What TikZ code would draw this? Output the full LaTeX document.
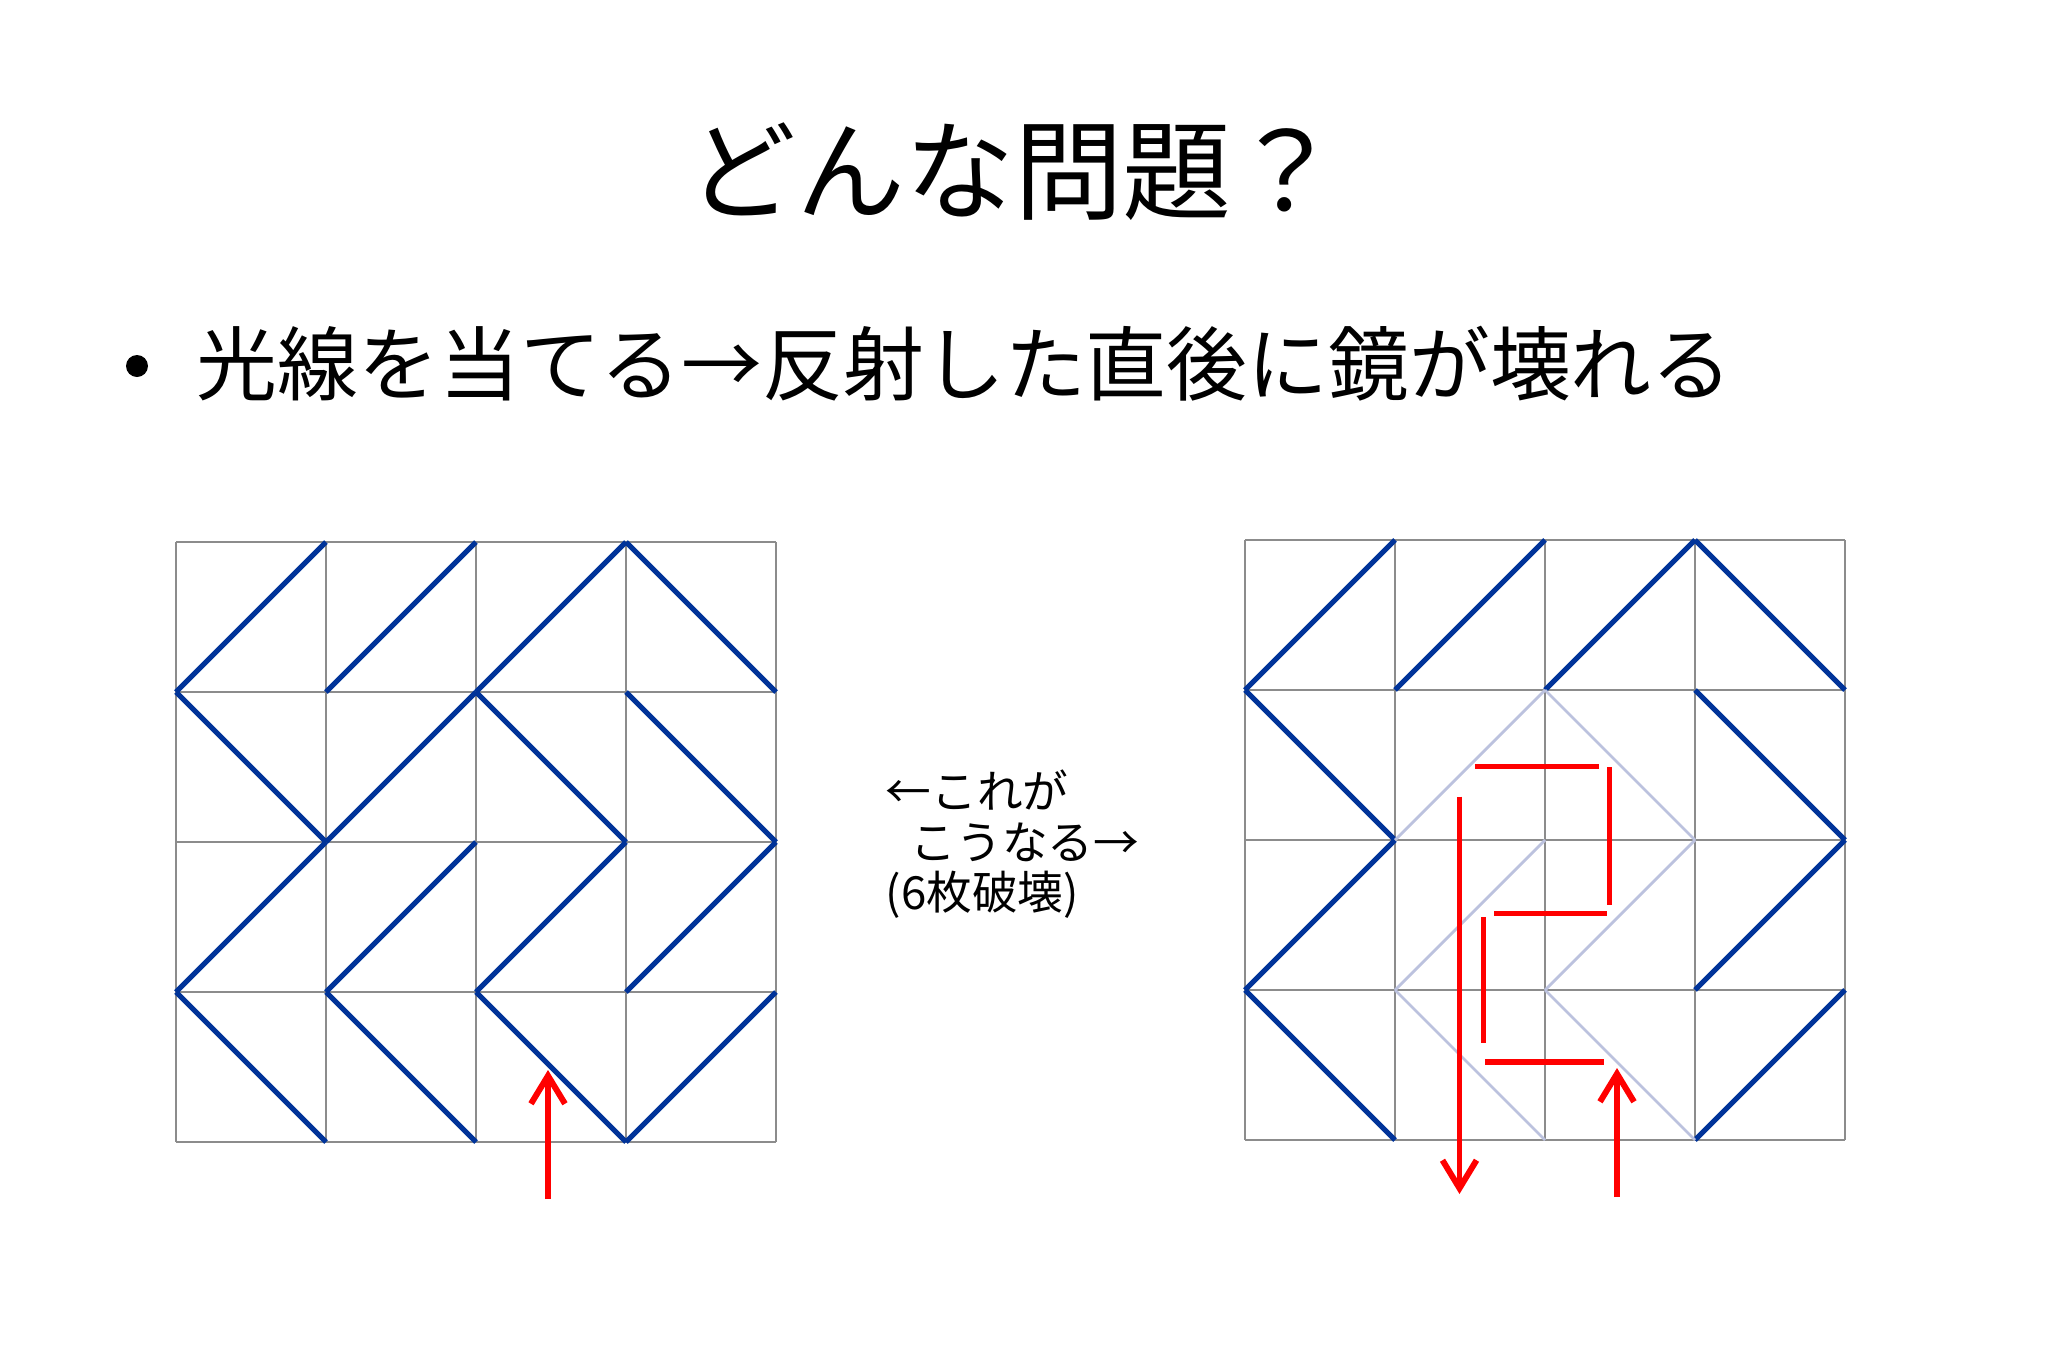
\documentclass[tikz,border=0pt]{standalone}
\usepackage{fontspec}
\newfontfamily\jpfont{Noto Sans CJK JP}
\usetikzlibrary{positioning}
\usetikzlibrary{arrows.meta}

\definecolor{gridgray}{RGB}{140,140,140}
\definecolor{mirrorblue}{RGB}{0,51,153}
\definecolor{brokenblue}{RGB}{188,194,222}

\tikzset{
	cell/.style={draw=gridgray, line width=0.55pt},
	mirror/.style={draw=mirrorblue, line width=1.5pt},
	broken/.style={draw=brokenblue, line width=0.8pt},
	ray/.style={draw=red, line width=1.7pt, >={Straight Barb[length=2.8mm,width=3.4mm]}},
	label/.style={inner sep=0pt, anchor=west},
}

\begin{document}
\begin{tikzpicture}
				\useasboundingbox (0,0) rectangle (20.48,-13.65);
				
				\node[font=\jpfont\fontsize{31}{37}\selectfont] (title) at (10.14,-1.72) {どんな問題？};
				\node[circle, fill, inner sep=0pt, minimum size=0.22cm] (dot) at (1.37,-3.66) {};
				\node[label, font=\jpfont\fontsize{23}{28}\selectfont] (point) at (1.96,-3.64) {光線を当てる→反射した直後に鏡が壊れる};
				
				\node[label, font=\jpfont\fontsize{13}{16}\selectfont] (note1) at (8.85,-7.90) {←これが};
				\node[label, font=\jpfont\fontsize{13}{16}\selectfont] (note2) at (9.10,-8.42) {こうなる→};
				\node[label, font=\jpfont\fontsize{13}{16}\selectfont] (note3) at (8.85,-8.95) {(6枚破壊)};
				
				% before
				\begin{scope}[shift={(1.76cm,-5.42cm)}, x=1.5cm, y=-1.5cm]
					\foreach \i in {0,...,4} {
						\draw[cell] (\i,0) -- (\i,4);
						\draw[cell] (0,\i) -- (4,\i);
					}
					\foreach \c/\r in {0/0,1/0,2/0,1/1,0/2,1/2,2/2,3/2,3/3}
						\draw[mirror] (\c,\r+1) -- (\c+1,\r);
					\foreach \c/\r in {3/0,0/1,2/1,3/1,0/3,1/3,2/3}
						\draw[mirror] (\c,\r) -- (\c+1,\r+1);
					\coordinate (inL) at (2.48,4.38);
					\coordinate (hitL) at (2.48,3.52);
					\draw[ray, ->] (inL) -- (hitL);
				\end{scope}
				
				% after
				\begin{scope}[shift={(12.45cm,-5.40cm)}, x=1.5cm, y=-1.5cm]
					\foreach \i in {0,...,4} {
						\draw[cell] (\i,0) -- (\i,4);
						\draw[cell] (0,\i) -- (4,\i);
					}
					\foreach \c/\r in {0/0,1/0,2/0,0/2,3/2,3/3}
						\draw[mirror] (\c,\r+1) -- (\c+1,\r);
					\foreach \c/\r in {3/0,0/1,3/1,0/3}
						\draw[mirror] (\c,\r) -- (\c+1,\r+1);
					\foreach \c/\r in {1/1,1/2,2/2}
						\draw[broken] (\c,\r+1) -- (\c+1,\r);
					\foreach \c/\r in {2/1,1/3,2/3}
						\draw[broken] (\c,\r) -- (\c+1,\r+1);
					
					\coordinate (inR) at (2.48,4.38);
					\coordinate (hitR) at (2.48,3.52);
					\coordinate (outR) at (1.43,1.71);
					\coordinate (exitR) at (1.43,4.36);
					\draw[ray, ->] (inR) -- (hitR);
					\draw[ray] (2.39,3.48) -- (1.60,3.48);
					\draw[ray] (1.59,3.35) -- (1.59,2.51);
					\draw[ray] (1.66,2.49) -- (2.41,2.49);
					\draw[ray] (2.43,2.43) -- (2.43,1.51);
					\draw[ray] (2.36,1.51) -- (1.53,1.51);
					\draw[ray, ->] (outR) -- (exitR);
				\end{scope}
			\end{tikzpicture}
\end{document}
